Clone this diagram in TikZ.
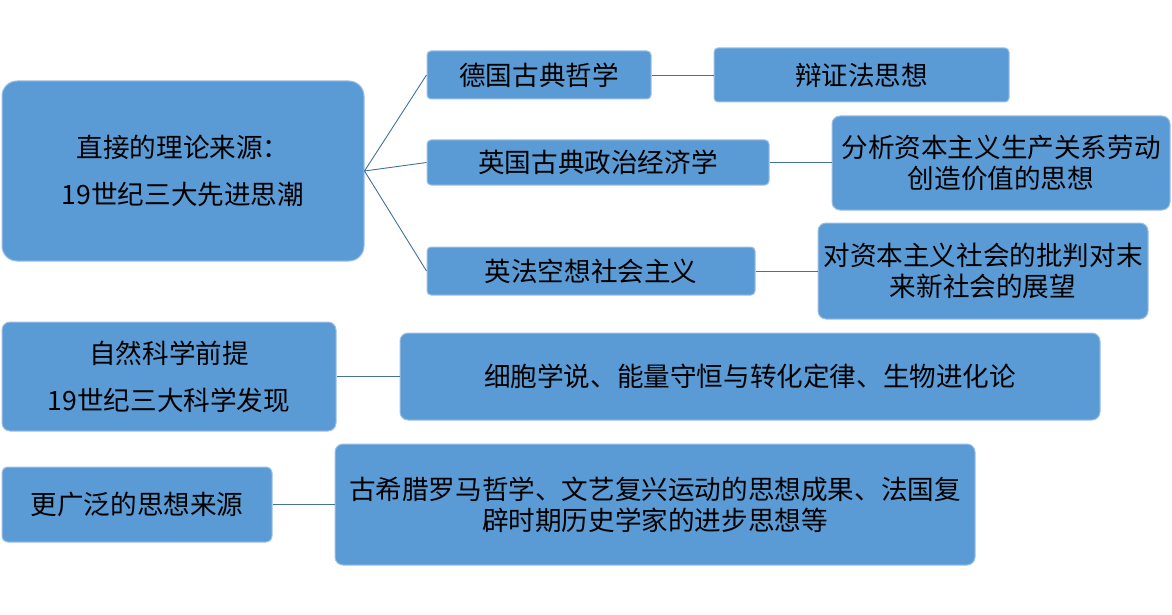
\documentclass[tikz,border=0pt]{standalone}
\usepackage{fontspec}
\newfontfamily\cjk{Noto Sans CJK SC}
\definecolor{boxfill}{HTML}{5B9BD5}
\definecolor{boxborder}{HTML}{9DC0E4}
\definecolor{linkcol}{HTML}{41719C}
\begin{document}
\begin{tikzpicture}[x=1pt,y=-1pt,
  box/.style={draw=boxborder, fill=boxfill, line width=1pt, rounded corners=4pt,
    text=black, align=center, inner sep=0pt,
    font=\cjk\fontsize{26.6}{31}\selectfont},
  wide/.style={font=\cjk\fontsize{26.6}{47}\selectfont},
  link/.style={draw=linkcol, line width=0.9pt}]
\useasboundingbox (0,0) rectangle (1172,615);
\node[box, wide, rounded corners=15pt, minimum width=362pt, minimum height=180pt] (A) at (183,171) {直接的理论来源：\\19世纪三大先进思潮};
\node[box, minimum width=224pt, minimum height=48pt] (B1) at (539,75) {德国古典哲学};
\node[box, minimum width=342pt, minimum height=45pt] (B2) at (598,162.5) {英国古典政治经济学};
\node[box, minimum width=328pt, minimum height=48pt] (B3) at (591,271) {英法空想社会主义};
\node[box, minimum width=295pt, minimum height=54pt] (C1) at (861.5,75) {辩证法思想};
\node[box, rounded corners=8pt, minimum width=338pt, minimum height=94pt] (C2) at (1001,163) {分析资本主义生产关系劳动\\创造价值的思想};
\node[box, rounded corners=8pt, minimum width=330pt, minimum height=96pt] (C3) at (983,271) {对资本主义社会的批判对末\\来新社会的展望};
\node[box, wide, rounded corners=8pt, minimum width=334pt, minimum height=109pt] (D) at (169,376.5) {自然科学前提\\19世纪三大科学发现};
\node[box, rounded corners=8pt, minimum width=700pt, minimum height=87pt] (D2) at (750,376.5) {细胞学说、能量守恒与转化定律、生物进化论};
\node[box, rounded corners=6pt, minimum width=270pt, minimum height=75pt] (E) at (137,504.5) {更广泛的思想来源};
\node[box, rounded corners=8pt, minimum width=640pt, minimum height=121pt] (E2) at (655,504.5) {古希腊罗马哲学、文艺复兴运动的思想成果、法国复\\辟时期历史学家的进步思想等};
\draw[link] (A.east) -- (B1.west);
\draw[link] (A.east) -- (B2.west);
\draw[link] (A.east) -- (B3.west);
\draw[link] (B1.east) -- (C1.west);
\draw[link] (B2.east) -- (C2.west |- B2.east);
\draw[link] (B3.east) -- (C3.west |- B3.east);
\draw[link] (D.east) -- (D2.west);
\draw[link] (E.east) -- (E2.west);
\end{tikzpicture}
\end{document}
